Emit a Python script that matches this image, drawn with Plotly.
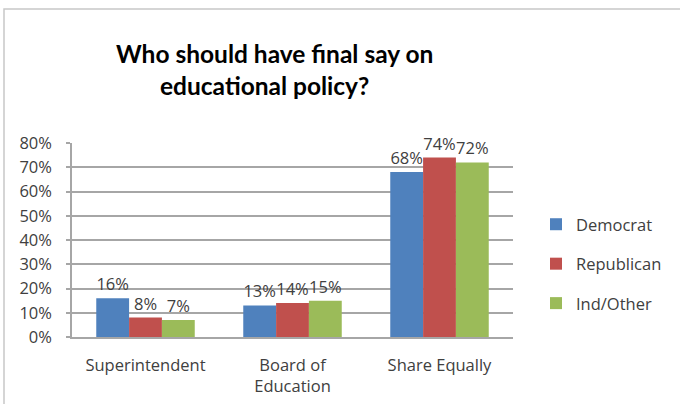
import plotly.graph_objects as go

categories = ["Superintendent", "Board of<br>Education", "Share Equally"]
democrat = [0.16, 0.13, 0.68]
republican = [0.08, 0.14, 0.74]
ind_other = [0.07, 0.15, 0.72]
series_names = ["Democrat", "Republican", "Ind/Other"]
colors = ["#4F81BD", "#C0504D", "#9BBB59"]
tick_vals = [0, 0.1, 0.2, 0.3, 0.4, 0.5, 0.6, 0.7, 0.8]
tick_text = ["0%", "10%", "20%", "30%", "40%", "50%", "60%", "70%", "80%"]
title_lines = ["Who should have final say on", "educational policy?"]

W, H = 680, 404
L, R, T, B = 72, 167, 143, 67
pw, ph = W - L - R, H - T - B
FONT = "Open Sans"
FS = 16.5

fig = go.Figure()
for i, (name, vals) in enumerate(zip(series_names, [democrat, republican, ind_other])):
    fig.add_trace(go.Bar(
        x=categories, y=vals, name=name, marker_color=colors[i],
        marker_line_width=0,
        text=[f"{round(v*100)}%" for v in vals], textposition="outside",
        textfont=dict(family=FONT, size=FS, color="#404040"),
        cliponaxis=False, legendgroup=name,
    ))

def px_x(p):
    return (p - L) / pw

def px_y(p):
    return (H - B - p) / ph

annotations = [
    dict(text=f"<b>{title_lines[0]}</b>", x=px_x(274), y=px_y(53), xref="paper", yref="paper",
         xanchor="center", yanchor="middle", showarrow=False,
         font=dict(family="Lato", size=24.5, color="black")),
    dict(text=f"<b>{title_lines[1]}</b>", x=px_x(264), y=px_y(86), xref="paper", yref="paper",
         xanchor="center", yanchor="middle", showarrow=False,
         font=dict(family="Lato", size=24.5, color="black")),
]

fig.update_layout(
    width=W, height=H, margin=dict(l=L, r=R, t=T, b=B, autoexpand=False),
    paper_bgcolor="white", plot_bgcolor="white",
    barmode="group", bargap=0.33, bargroupgap=0,
    font=dict(family=FONT, color="#404040", size=FS),
    annotations=annotations,
    legend=dict(x=px_x(536), y=px_y(264), xanchor="left", yanchor="middle",
                font=dict(family=FONT, size=FS, color="#404040"),
                tracegroupgap=15, itemwidth=30, bgcolor="rgba(0,0,0,0)"),
    yaxis=dict(range=[0, 0.8], tickvals=tick_vals, ticktext=tick_text,
               showgrid=True, gridcolor="#A6A6A6", gridwidth=1.5,
               zeroline=False, showline=True, linecolor="#A6A6A6", linewidth=1.5,
               ticks="outside", ticklen=4, tickcolor="#A6A6A6", tickwidth=1.5,
               tickfont=dict(family=FONT, size=FS, color="#404040"),
               ticklabelstandoff=11, automargin=False),
    xaxis=dict(showline=True, linecolor="#A6A6A6", linewidth=1.5, ticks="",
               tickfont=dict(family=FONT, size=FS, color="#404040"),
               ticklabelstandoff=12, automargin=False),
    shapes=[dict(type="rect", xref="paper", yref="paper",
                 x0=px_x(4), x1=px_x(690), y0=px_y(420), y1=px_y(9),
                 line=dict(color="#C8C8C8", width=1.5), fillcolor="rgba(0,0,0,0)",
                 layer="below")],
)

fig.write_html("out.html")
